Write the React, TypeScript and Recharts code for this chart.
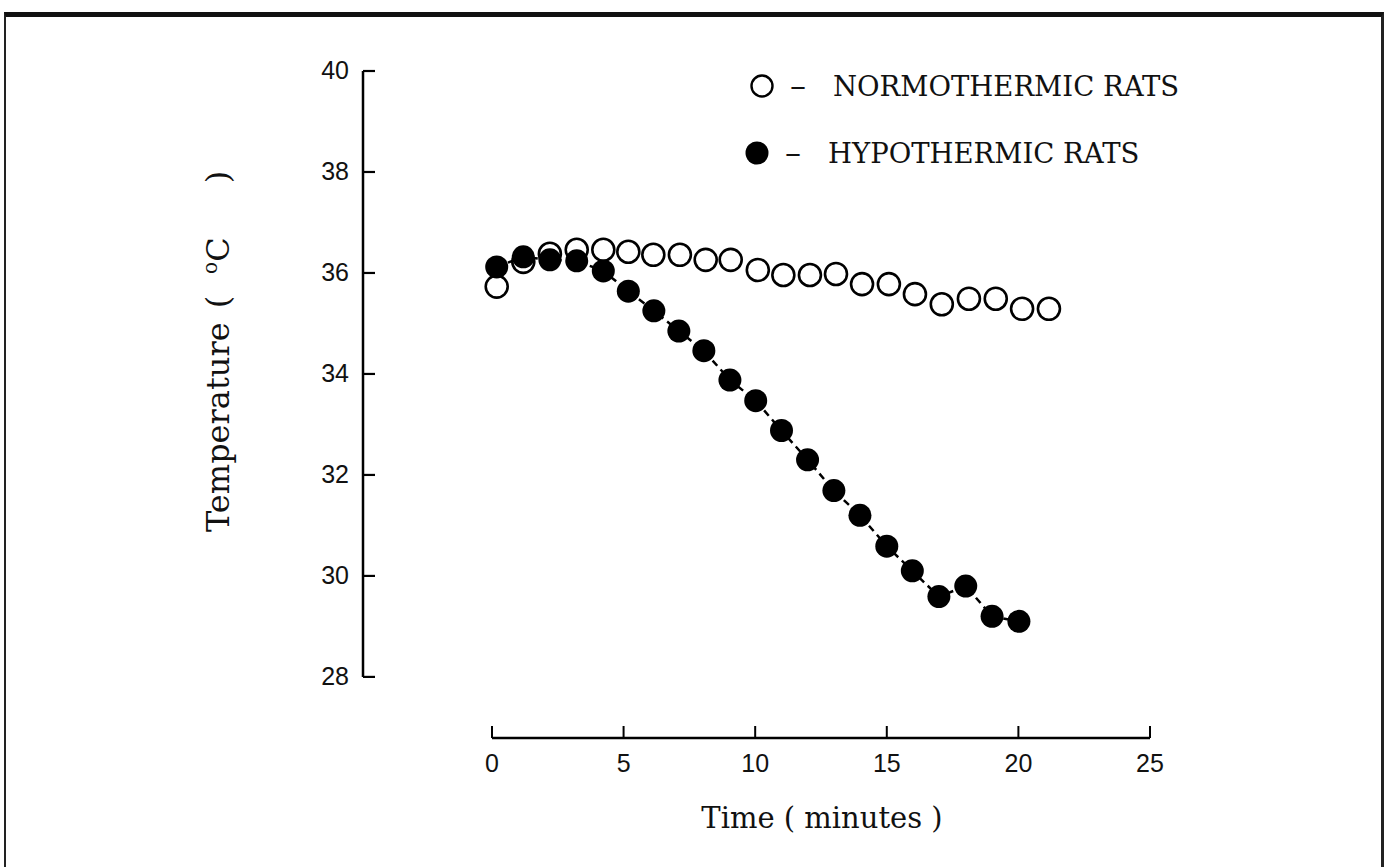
import {
  ScatterChart,
  Scatter,
  XAxis,
  YAxis,
  ReferenceLine,
  Legend,
} from "recharts";

// time (min) and rectal temperature (°C)
const normTime = [0.18, 1.19, 2.2, 3.22, 4.23, 5.18, 6.13, 7.14, 8.12, 9.07, 10.1, 11.07, 12.08, 13.07, 14.06, 15.08, 16.07, 17.09, 18.12, 19.14, 20.14, 21.16];
const normTemp = [35.73, 36.22, 36.38, 36.46, 36.46, 36.42, 36.36, 36.36, 36.26, 36.26, 36.06, 35.96, 35.96, 35.98, 35.78, 35.78, 35.58, 35.38, 35.49, 35.49, 35.29, 35.29];

const hypoTime = [0.18, 1.19, 2.2, 3.22, 4.23, 5.18, 6.15, 7.1, 8.05, 9.04, 10.02, 11.0, 11.99, 12.99, 13.98, 15.0, 15.97, 16.98, 18.0, 19.0, 20.02];
const hypoTemp = [36.12, 36.32, 36.26, 36.24, 36.04, 35.64, 35.25, 34.85, 34.46, 33.88, 33.47, 32.88, 32.3, 31.69, 31.2, 30.59, 30.1, 29.59, 29.8, 29.2, 29.1];

const xTicks = [0, 5, 10, 15, 20, 25];
const yTicks = [28, 30, 32, 34, 36, 38, 40];

const NORM = "NORMOTHERMIC RATS";
const HYPO = "HYPOTHERMIC RATS";
const legendOrder = [NORM, HYPO];

// the axes in the original are detached, so the domains run past the tick range
const X_MIN = -4.9;
const Y_MIN = 26.79;

const serif = "'DejaVu Serif', 'Liberation Serif', serif";
const sans = "'Liberation Sans', Arial, sans-serif";

const normData = normTime.map((t, i) => ({ t, temp: normTemp[i] }));
const hypoData = hypoTime.map((t, i) => ({ t, temp: hypoTemp[i] }));

function OpenDot(props: any) {
  return <circle cx={props.cx} cy={props.cy} r={11} fill="#fff" stroke="#000" strokeWidth={2.6} />;
}

function FilledDot(props: any) {
  return <circle cx={props.cx} cy={props.cy} r={11.5} fill="#000" />;
}

function YTick(props: any) {
  const { x, y, payload } = props;
  return (
    <g>
      <line x1={x} y1={y} x2={x + 12} y2={y} stroke="#000" strokeWidth={2.2} />
      <text x={x - 14} y={y} dy={8} textAnchor="end" fontFamily={sans} fontSize={25} fill="#111">
        {payload.value}
      </text>
    </g>
  );
}

function XTick(props: any) {
  const { x, y, payload } = props;
  return (
    <g>
      <line x1={x} y1={y} x2={x} y2={y - 12} stroke="#000" strokeWidth={2} />
      <text x={x} y={y + 34} textAnchor="middle" fontFamily={sans} fontSize={25} fill="#111">
        {payload.value}
      </text>
    </g>
  );
}

function LegendBox(props: any) {
  const items = [...(props.payload || [])].sort(
    (a: any, b: any) => legendOrder.indexOf(a.value) - legendOrder.indexOf(b.value)
  );
  return (
    <svg width={470} height={120}>
      {items.map((entry: any, i: number) => {
        const cy = 26 + i * 67;
        const cx = 22 - i * 5;
        const filled = entry.value === HYPO;
        return (
          <g key={entry.value}>
            {filled ? (
              <circle cx={cx} cy={cy} r={11.5} fill="#000" />
            ) : (
              <circle cx={cx} cy={cy} r={10.5} fill="#fff" stroke="#000" strokeWidth={2.4} />
            )}
            <text x={cx + 28} y={cy + 10} fontFamily={serif} fontSize={32} fill="#111">
              –
            </text>
            <text x={cx + 71} y={cy + 10} fontFamily={serif} fontSize={27.5} fill="#111">
              {entry.value}
            </text>
          </g>
        );
      })}
    </svg>
  );
}

export default function App() {
  return (
    <div style={{ position: "absolute", left: 0, top: 0, width: 1385, height: 867, background: "#fff" }}>
      <div
        style={{
          position: "absolute",
          left: 4,
          top: 12,
          width: 1380,
          height: 855,
          boxSizing: "border-box",
          borderTop: "5px solid #111",
          borderLeft: "2px solid #222",
          borderRight: "3px solid #222",
        }}
      />
      <div style={{ position: "absolute", left: 0, top: 0 }}>
        <ScatterChart width={1385} height={867} margin={{ top: 71, right: 235, bottom: 69, left: 243 }}>
          <XAxis
            type="number"
            dataKey="t"
            domain={[X_MIN, 25]}
            ticks={xTicks}
            allowDataOverflow
            axisLine={false}
            tickLine={false}
            tickSize={0}
            tickMargin={0}
            height={60}
            tick={<XTick />}
            interval={0}
          />
          <YAxis
            type="number"
            dataKey="temp"
            domain={[Y_MIN, 40]}
            ticks={yTicks}
            allowDataOverflow
            axisLine={false}
            tickLine={false}
            tickSize={0}
            tickMargin={0}
            width={120}
            tick={<YTick />}
            interval={0}
          />
          <ReferenceLine
            segment={[{ x: X_MIN, y: 28 }, { x: X_MIN, y: 40 }]}
            stroke="#000"
            strokeWidth={2.5}
            ifOverflow="visible"
          />
          <ReferenceLine
            segment={[{ x: 0, y: Y_MIN }, { x: 25, y: Y_MIN }]}
            stroke="#000"
            strokeWidth={2.5}
            ifOverflow="visible"
          />
          <Legend
            layout="horizontal"
            verticalAlign="middle"
            align="center"
            content={<LegendBox />}
            wrapperStyle={{ position: "absolute", left: 740, top: 60, width: 470, height: 120 }}
          />
          <Scatter name={NORM} data={normData} shape={<OpenDot />} isAnimationActive={false} />
          <Scatter
            name={HYPO}
            data={hypoData}
            shape={<FilledDot />}
            line={{ stroke: "#000", strokeWidth: 2.5, strokeDasharray: "7 5" }}
            lineType="joint"
            isAnimationActive={false}
          />
          <text x={822} y={828} textAnchor="middle" fontFamily={serif} fontSize={29} fill="#111" style={{ whiteSpace: "pre" }}>
            Time ( minutes )
          </text>
          <text
            x={229}
            y={532}
            textAnchor="start"
            fontFamily={serif}
            fontSize={32}
            fill="#111"
            transform="rotate(-90 229 532)"
            style={{ whiteSpace: "pre" }}
          >
            Temperature
            <tspan dx={14}>(</tspan>
            <tspan dx={22} fontSize={20} dy={-12}>o</tspan>
            <tspan dy={12}>C</tspan>
            <tspan dx={54}>)</tspan>
          </text>
        </ScatterChart>
      </div>
    </div>
  );
}
